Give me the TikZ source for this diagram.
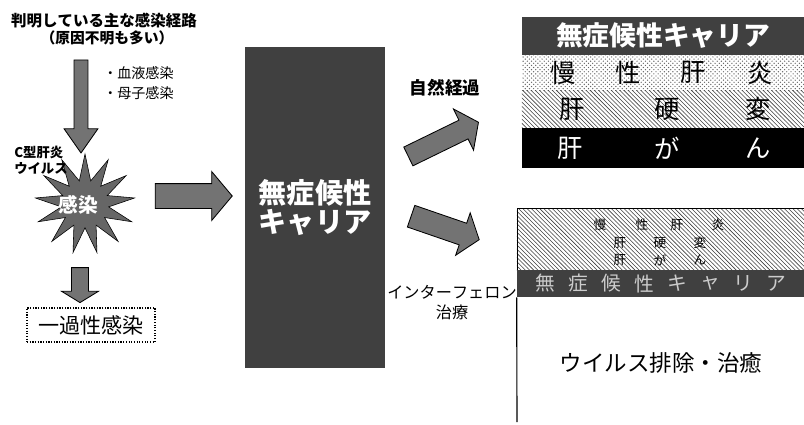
\documentclass[tikz,border=0pt]{standalone}
\usepackage{fontspec}
\setmainfont{Noto Sans CJK JP}[Kerning=Off]
\usetikzlibrary{shapes.geometric,shapes.arrows,patterns,positioning}
\newcommand{\jsize}[2]{\fontsize{#1}{#2}\selectfont}
\tikzset{
  blkarrow/.style={single arrow, draw=black, line width=0.6pt, fill=black!55,
    single arrow head indent=0pt, minimum width=0pt},
  noisy/.style={fill=black!75, inner sep=0pt},
}

\begin{document}
\begin{tikzpicture}[x=0.025cm,y=-0.025cm]
    \useasboundingbox (0,0) rectangle (804,424);
    % left column
    \node[font=\jsize{11pt}{13pt}\bfseries] (route) at (104,21) {判明している主な感染経路};
    \node[font=\jsize{10.5pt}{12pt}\bfseries] (unknown) at (107,38) {（原因不明も多い）};
    \node[blkarrow, rotate=-90, minimum height=2.325cm, inner sep=0.1625cm,
          single arrow head extend=0.25cm, single arrow tip angle=70] (down1) at (81,101.5) {};
    \node[font=\jsize{10pt}{14pt}, align=left, anchor=west, inner sep=0pt] (routes) at (103,83) {・血液感染\\・母子感染};
    \node[star, star points=13, star point ratio=2.1, minimum size=2.5cm, draw, fill=black!60,
          inner sep=0pt] (infect) at (85,204) {};
    \node[text=white, font=\jsize{14pt}{14pt}\bfseries] (infectlbl) at (78,205) {感染};
    \node[font=\jsize{9.5pt}{11.5pt}\bfseries, align=left, anchor=west, inner sep=0pt] (hcv) at (14,160) {C型肝炎\\ウイルス};
    \node[blkarrow, minimum height=1.925cm, inner sep=0.3cm,
          single arrow head extend=0.3cm, single arrow tip angle=100] (tocarrier) at (188.5,196) {};
    \node[blkarrow, rotate=-90, minimum height=0.875cm, inner sep=0.2cm,
          single arrow head extend=0.25cm, single arrow tip angle=117] (down2) at (80,282.5) {};
    \node[draw, densely dotted, line width=0.9pt, minimum width=3.2cm, minimum height=0.85cm,
          font=\jsize{15pt}{15pt}] (once) at (91,325) {一過性感染};

    % carrier
    \node[noisy, minimum width=3.5cm, minimum height=8.025cm, text=white, align=center,
          font=\jsize{20pt}{20pt}\bfseries] (carrier) at (315,207.5) {無症候性\\キャリア};

    % two ways
    \node[font=\jsize{12.5pt}{14pt}\bfseries] (naturallbl) at (445,88) {自然経過};
    \node[blkarrow, rotate=26, minimum height=1.95cm, inner sep=0.25cm,
          single arrow head extend=0.3125cm, single arrow tip angle=108] (natural) at (440,141) {};
    \node[blkarrow, rotate=-19, minimum height=1.8cm, inner sep=0.275cm,
          single arrow head extend=0.275cm, single arrow tip angle=105] (therapy) at (441,226.5) {};
    \node[font=\jsize{11.5pt}{14.2pt}, align=center] (ifnlbl) at (452,303) {インターフェロン\\治療};

    % natural course
    \node[noisy, minimum width=7.05cm, minimum height=0.95cm, text=white,
          font=\jsize{19pt}{19pt}\bfseries] (bcarrier) at (663,36) {無症候性キャリア};
    \node[pattern=crosshatch dots, pattern color=black!60, minimum width=7.05cm,
          minimum height=0.875cm, inner sep=0pt] (bchronic) at (663,72.5) {};
    \node[pattern=north west lines, pattern color=black!75, minimum width=7.05cm,
          minimum height=0.95cm, inner sep=0pt] (bcirr) at (663,109) {};
    \node[fill=black, minimum width=7.05cm, minimum height=1cm, inner sep=0pt] (bcancer) at (663,148) {};
    \foreach \c/\x in {慢/563,性/628,肝/693,炎/760}
        \node[font=\jsize{18pt}{18pt}] (chr\x) at (\x,72.5) {\c};
    \foreach \c/\x in {肝/572,硬/667,変/758}
        \node[font=\jsize{18pt}{18pt}] (cir\x) at (\x,109) {\c};
    \foreach \c/\x in {肝/570,が/667,ん/758}
        \node[font=\jsize{18pt}{18pt}, text=white] (can\x) at (\x,148) {\c};

    % interferon
    \node[draw, pattern=north west lines, pattern color=black!75, minimum width=7.175cm,
          minimum height=1.55cm, inner sep=0pt] (ifnstage) at (660.5,239) {};
    \foreach \c/\x in {慢/600,性/642,肝/677,炎/718}
        \node[font=\jsize{9pt}{9pt}] (ichr\x) at (\x,225) {\c};
    \foreach \c/\x in {肝/620,硬/660,変/700}
        \node[font=\jsize{9pt}{9pt}] (icir\x) at (\x,243) {\c};
    \foreach \c/\x in {肝/620,が/660,ん/700}
        \node[font=\jsize{9pt}{9pt}] (ican\x) at (\x,260) {\c};
    \node[noisy, minimum width=7.175cm, minimum height=0.675cm] (ifncarrier) at (660.5,283.5) {};
    \foreach \c [count=\i from 0] in {無,症,候,性,キ,ャ,リ,ア}
        \node[font=\jsize{14pt}{14pt}, text=white!80!black] (ica\i) at (545+33*\i,283.5) {\c};
    \coordinate (cureend) at (517,422);
    \draw[line width=0.8pt] (ifncarrier.south west) -- (cureend);
    \node[font=\jsize{16pt}{16pt}] (cure) at (661,363) {ウイルス排除・治癒};
\end{tikzpicture}
\end{document}
